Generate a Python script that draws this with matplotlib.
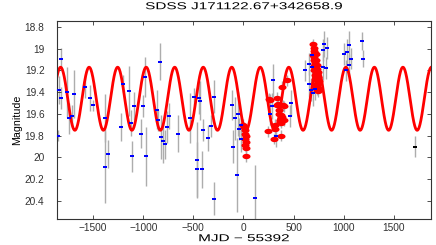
"""Light curve of SDSS J171122.67+342658.9 with sinusoid model"""

import matplotlib

matplotlib.use("Agg")
import matplotlib.patheffects as pe
import matplotlib.pyplot as plt
import numpy as np
from matplotlib.path import Path
from matplotlib.ticker import FuncFormatter

plt.rcParams["font.family"] = ["Liberation Sans", "DejaVu Sans"]

# CRTS-like photometry (blue), MJD - 55392
blue_t = [-1822, -1836, -1822, -1849, -1756, -1736, -1710, -1693, -1584, -1531,
          -1498, -1385, -1379, -1349, -1226, -1206, -1146, -1126, -1113, -1093,
          -1024, -1001, -981, -968, -835, -858, -852, -818, -802, -785,
          -758, -742, -656, -533, -497, -467, -467, -444, -430, -417,
          -408, -355, -325, -298, -291, -116, -106, -89, -63, -50,
          -43, -20, -27, 112, 298, 288, 262, 328, 474, 467,
          616, 656, 653, 673, 696, 683, 686, 795, 802, 832,
          798, 822, 713, 1007, 1037, 1057, 1077, 1051, 1027, 1183,
          1196]
blue_mag = [19.09, 19.38, 19.45, 19.80, 19.40, 19.64, 19.62, 19.42, 19.35, 19.45,
            19.52, 19.64, 20.09, 19.97, 19.72, 19.32, 19.39, 19.68, 19.99, 19.53,
            19.78, 19.53, 19.26, 19.99, 19.12, 19.56, 19.66, 19.81, 19.85, 19.88,
            19.72, 19.62, 19.78, 19.64, 19.44, 20.02, 20.11, 19.45, 19.48, 20.11,
            19.75, 19.82, 19.71, 19.44, 20.38, 19.52, 19.90, 19.64, 20.16, 19.60,
            19.74, 19.70, 19.83, 20.37, 19.29, 19.53, 19.60, 19.80, 19.50, 19.62,
            19.20, 19.14, 19.32, 19.38, 19.41, 19.17, 19.06, 19.01, 18.96, 18.99,
            19.17, 19.18, 19.37, 19.05, 19.03, 18.97, 19.09, 19.15, 19.20, 18.93,
            19.09]
blue_err = [0.10, 0.13, 0.10, 0.05, 0.23, 0.14, 0.10, 0.22, 0.10, 0.12,
            0.05, 0.22, 0.33, 0.13, 0.13, 0.08, 0.23, 0.12, 0.14, 0.13,
            0.13, 0.10, 0.18, 0.27, 0.17, 0.18, 0.10, 0.20, 0.20, 0.13,
            0.15, 0.12, 0.17, 0.23, 0.08, 0.35, 0.25, 0.15, 0.18, 0.17,
            0.10, 0.12, 0.10, 0.15, 0.15, 0.14, 0.15, 0.20, 0.34, 0.20,
            0.10, 0.10, 0.12, 0.30, 0.15, 0.12, 0.10, 0.10, 0.12, 0.10,
            0.10, 0.10, 0.12, 0.10, 0.12, 0.12, 0.13, 0.10, 0.12, 0.10,
            0.12, 0.10, 0.10, 0.10, 0.12, 0.13, 0.10, 0.10, 0.10, 0.08,
            0.08]

# PTF-like photometry (red)
red_t = [0, 10, 20, 15, 25, 18, 22, 20, 25, 30,
         245, 305, 318, 378, 258, 335, 385, 437, 345, 358,
         370, 385, 400, 401, 312, 265, 330, 395, 350, 375, 362,
         693, 700, 705, 712, 698, 708, 720, 703, 715, 725,
         710, 730, 700, 718, 735, 706, 722, 740, 712, 728,
         745, 716, 733, 750, 720, 738, 726, 742, 730, 745]
red_mag = [19.70, 19.72, 19.75, 19.78, 19.80, 19.83, 19.86, 19.89, 19.91, 19.99,
           19.76, 19.83, 19.74, 19.80, 19.46, 19.45, 19.35, 19.29, 19.51, 19.56,
           19.61, 19.63, 19.66, 19.53, 19.70, 19.47, 19.52, 19.52, 19.60, 19.68, 19.66,
           18.96, 18.99, 19.02, 19.04, 19.06, 19.08, 19.05, 19.10, 19.12, 19.10,
           19.14, 19.15, 19.16, 19.18, 19.19, 19.20, 19.22, 19.21, 19.24, 19.25,
           19.26, 19.28, 19.29, 19.30, 19.32, 19.33, 19.35, 19.36, 19.38, 19.39]
red_err = [0.05] * len(red_t)

# single black point
black_t = [1713]
black_mag = [19.90]
black_err = [0.10]

# sinusoid model
period = 284.5
t_peak = -117
mean_mag = 19.46
amp = 0.29


class Widen(pe.AbstractPathEffect):
    """Stretch text glyphs sideways (the original has very wide lettering)"""

    def __init__(self, sx):
        super().__init__()
        self.sx = sx

    def draw_path(self, renderer, gc, tpath, affine, rgbFace=None):
        v = tpath.vertices.copy()
        if len(v):
            cx = 0.5 * (v[:, 0].min() + v[:, 0].max())
            v[:, 0] = (v[:, 0] - cx) * self.sx + cx
        renderer.draw_path(gc, Path(v, tpath.codes), affine, rgbFace)


fig = plt.figure(figsize=(4.36, 2.45), dpi=100)
ax = fig.add_axes([0.1307, 0.1061, 0.8578, 0.8082])

ebar_col = "#adadad"
for t, m, e in [(blue_t, blue_mag, blue_err), (red_t, red_mag, red_err),
                (black_t, black_mag, black_err)]:
    ax.errorbar(t, m, yerr=e, fmt="none", ecolor=ebar_col,
                elinewidth=1.0, capsize=0, zorder=1)

tt = np.linspace(-1870, 1880, 2000)
ax.plot(tt, mean_mag - amp * np.cos(2 * np.pi * (tt - t_peak) / period),
        color="red", lw=2.0, zorder=2)

# wide ellipse marker for red points, flat rectangle for blue ones
th = np.linspace(0, 2 * np.pi, 40)
ellipse = Path(np.column_stack([1.5 * np.cos(th), np.sin(th)]), closed=True)
rect = Path([(-1.5, -1), (1.5, -1), (1.5, 1), (-1.5, 1), (-1.5, -1)], closed=True)
ax.plot(red_t, red_mag, ls="none", marker=ellipse, ms=5.8, color="red",
        mew=0, zorder=3)
ax.plot(blue_t, blue_mag, ls="none", marker=rect, ms=2.4, color="blue",
        mew=0, zorder=4)
ax.plot(black_t, black_mag, ls="none", marker=rect, ms=2.4, color="black",
        mew=0, zorder=4)

ax.set_xlim(-1860, 1870)
ax.set_ylim(20.566, 18.745)
ax.set_xticks([-1500, -1000, -500, 0, 500, 1000, 1500])
ax.set_yticks([18.8, 19.0, 19.2, 19.4, 19.6, 19.8, 20.0, 20.2, 20.4])
ax.yaxis.set_major_formatter(FuncFormatter(lambda v, p: f"{v:g}"))
ax.xaxis.set_major_formatter(FuncFormatter(lambda v, p: f"{v:g}".replace("-", "\u2212")))
ax.tick_params(direction="in", top=True, right=True, labelsize=7.3, length=3,
               width=0.6, colors="#333333")
ax.tick_params(axis="y", pad=9)
ax.tick_params(axis="x", pad=3)
for s in ax.spines.values():
    s.set_linewidth(0.8)
    s.set_color("#333333")

wide = [Widen(1.53)]
ax.set_title("SDSS J171122.67+342658.9", fontsize=7.2, pad=8.5, path_effects=wide)
ax.set_xlabel("MJD \u2212 55392", fontsize=7.2, labelpad=0, path_effects=wide)
ax.set_ylabel("Magnitude", fontsize=7.7, labelpad=2)

fig.savefig("out.png", dpi=100)
